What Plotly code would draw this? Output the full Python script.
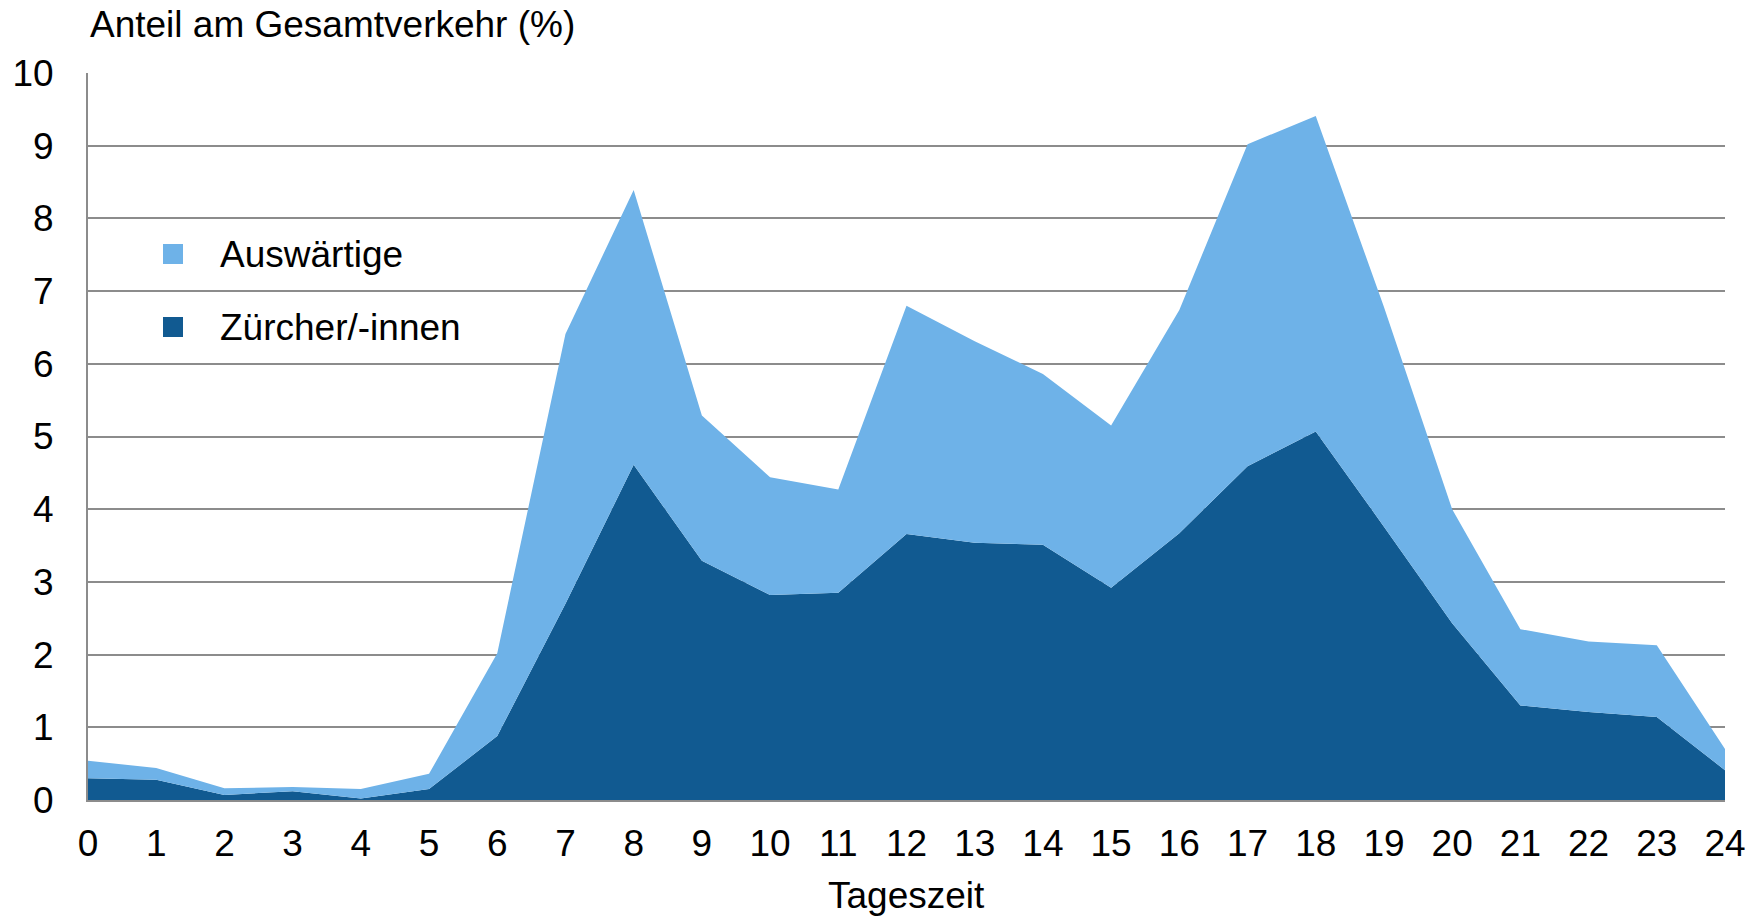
import plotly.graph_objects as go

# Hourly share of total traffic (%), stacked
hours = list(range(25))
zuercher = [0.30, 0.28, 0.07, 0.12, 0.02, 0.15, 0.88, 2.70, 4.61, 3.29, 2.82, 2.85, 3.66,
            3.54, 3.51, 2.92, 3.67, 4.59, 5.07, 3.76, 2.43, 1.30, 1.21, 1.14, 0.41]
auswaertige = [0.24, 0.16, 0.09, 0.06, 0.13, 0.21, 1.14, 3.71, 3.78, 2.00, 1.62, 1.42, 3.14,
               2.77, 2.35, 2.23, 3.07, 4.43, 4.34, 3.02, 1.57, 1.05, 0.97, 0.99, 0.29]
series_names = ["Zürcher/-innen", "Auswärtige"]
y_ticks = list(range(11))

DARK = "#115A91"
LIGHT = "#6EB2E8"
GRID = "#8C8C8C"
FONT = "Liberation Sans, Arial, sans-serif"
FS = 37

W, H = 1760, 918
M = dict(l=88, r=35, t=73, b=118, autoexpand=False)

fig = go.Figure()
for name, vals, col in [(series_names[0], zuercher, DARK), (series_names[1], auswaertige, LIGHT)]:
    fig.add_trace(go.Scatter(
        x=hours, y=vals, name=name,
        mode="lines", stackgroup="one",
        line=dict(width=0, color=col),
        fillcolor=col,
        hovertemplate="%{x} h: %{y:.2f}%<extra>" + name + "</extra>",
    ))

# ── custom legend (squares + labels) ──
pw = W - M["l"] - M["r"]
ph = H - M["t"] - M["b"]

def px_x(x):
    return (x - M["l"]) / pw

def px_y(y):
    return (H - M["b"] - y) / ph

shapes = []
annotations = []
for label, col, cy in [(series_names[1], LIGHT, 254), (series_names[0], DARK, 327)]:
    shapes.append(dict(
        type="rect", xref="paper", yref="paper",
        x0=px_x(163), x1=px_x(183), y0=px_y(cy + 10), y1=px_y(cy - 10),
        fillcolor=col, line=dict(width=0),
    ))
    annotations.append(dict(
        text=label, xref="paper", yref="paper",
        x=px_x(218), y=px_y(cy), xanchor="left", yanchor="middle",
        showarrow=False, font=dict(size=FS, color="black", family=FONT),
    ))

annotations.append(dict(
    text="Anteil am Gesamtverkehr (%)", xref="paper", yref="paper",
    x=px_x(88), y=px_y(25), xanchor="left", yanchor="middle",
    showarrow=False, font=dict(size=FS, color="black", family=FONT),
))
annotations.append(dict(
    text="Tageszeit", xref="paper", yref="paper",
    x=0.5, y=px_y(895), xanchor="center", yanchor="middle",
    showarrow=False, font=dict(size=FS, color="black", family=FONT),
))

fig.update_layout(
    width=W, height=H,
    margin=M,
    paper_bgcolor="white",
    plot_bgcolor="white",
    font=dict(family=FONT, size=FS, color="black"),
    showlegend=False,
    shapes=shapes,
    annotations=annotations,
    xaxis=dict(
        range=[0, 24], automargin=False,
        tickmode="array", tickvals=hours, ticktext=[str(h) for h in hours],
        showgrid=False, zeroline=False,
        showline=True, linecolor=GRID, linewidth=2,
        ticks="", ticklabelstandoff=10,
        tickfont=dict(size=FS),
    ),
    yaxis=dict(
        range=[0, 10], automargin=False,
        tickmode="array", tickvals=y_ticks,
        showgrid=True, gridcolor=GRID, gridwidth=2,
        zeroline=False,
        showline=True, linecolor=GRID, linewidth=2,
        ticks="", ticklabelstandoff=25,
        tickfont=dict(size=FS),
    ),
)

# drop the browser's default page margin so the figure sits at (0, 0)
fig.write_html(
    "out.html",
    config={"displayModeBar": False},
    post_script="document.body.style.margin='0px';",
)
